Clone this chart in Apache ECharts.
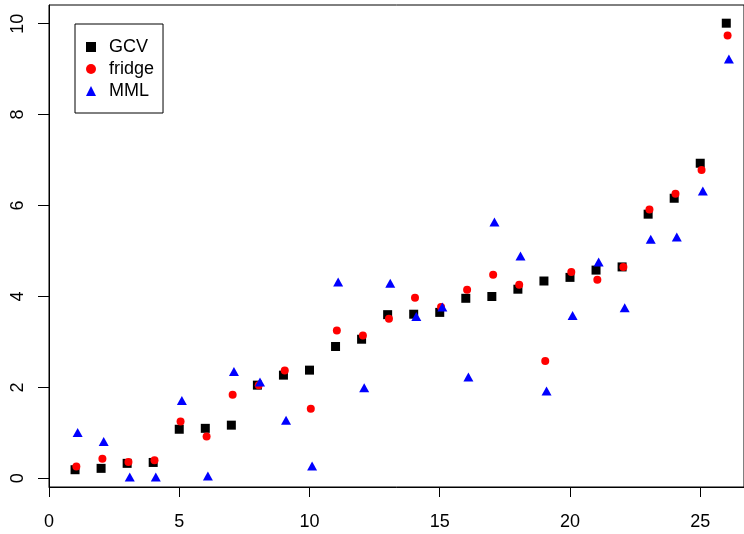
<!DOCTYPE html>
<html>
<head>
<meta charset="utf-8">
<script src="https://cdn.jsdelivr.net/npm/echarts@6/dist/echarts.min.js"></script>
<style>
  html, body { margin: 0; padding: 0; background: #fff; }
  #chart { width: 744px; height: 534px; }
</style>
</head>
<body>
<div id="chart"></div>
<script>
// index 1..26, three estimates per index
const idx = [1,2,3,4,5,6,7,8,9,10,11,12,13,14,15,16,17,18,19,20,21,22,23,24,25,26];
const gcv = [0.19,0.22,0.33,0.35,1.08,1.10,1.17,2.05,2.27,2.38,2.90,3.06,3.60,3.61,3.65,3.96,4.00,4.16,4.34,4.42,4.58,4.65,5.81,6.16,6.93,10.01];
const fridge = [0.26,0.43,0.36,0.40,1.25,0.92,1.84,2.05,2.37,1.53,3.25,3.14,3.51,3.97,3.77,4.15,4.48,4.26,2.58,4.54,4.37,4.65,5.91,6.26,6.78,9.74];
const mml = [1.01,0.81,0.03,0.03,1.71,0.05,2.35,2.12,1.28,0.27,4.32,1.99,4.29,3.56,3.77,2.23,5.64,4.89,1.92,3.58,4.76,3.75,5.26,5.31,6.32,9.22];
const xTicks = [0,5,10,15,20,25];
const yTicks = [0,2,4,6,8,10];

// small horizontal offsets so the three series don't sit on top of each other
function pts(vals, off) {
  return vals.map((v, i) => [idx[i] + off, v]);
}

const chart = echarts.init(document.getElementById('chart'));
const font = 'Liberation Sans, Arial, sans-serif';

chart.setOption({
  animation: false,
  textStyle: { fontFamily: font },
  grid: {
    left: 49, top: 5, right: -2, bottom: 47,
    show: true,
    borderColor: '#000',
    borderWidth: 1
  },
  legend: {
    orient: 'vertical',
    left: 75, top: 24,
    padding: [14, 9, 13, 11],
    itemGap: 4,
    itemWidth: 10,
    itemHeight: 10,
    borderColor: '#000',
    borderWidth: 1,
    textStyle: { fontSize: 18, color: '#000', fontFamily: font, padding: [0, 0, 0, 8] },
    data: [
      { name: 'GCV', icon: 'rect' },
      { name: 'fridge', icon: 'circle' },
      { name: 'MML', icon: 'triangle' }
    ]
  },
  xAxis: {
    type: 'value',
    min: 0,
    max: 26.68,
    splitLine: { show: false },
    axisLine: { show: true, onZero: false, lineStyle: { color: '#000', width: 1 } },
    axisTick: { show: true, length: 10, customValues: xTicks, lineStyle: { color: '#000' } },
    axisLabel: { customValues: xTicks, fontSize: 18, color: '#000', margin: 26, fontFamily: font }
  },
  yAxis: {
    type: 'value',
    min: -0.19,
    max: 10.41,
    splitLine: { show: false },
    axisLine: { show: true, onZero: false, lineStyle: { color: '#000', width: 1 } },
    axisTick: { show: true, length: 11, customValues: yTicks, lineStyle: { color: '#000' } },
    axisLabel: { customValues: yTicks, fontSize: 18, color: '#000', rotate: 90, margin: 22, fontFamily: font }
  },
  series: [
    {
      name: 'GCV', type: 'scatter', symbol: 'rect', symbolSize: 9,
      itemStyle: { color: '#000', opacity: 1 },
      data: pts(gcv, 0)
    },
    {
      name: 'fridge', type: 'scatter', symbol: 'circle', symbolSize: 8,
      itemStyle: { color: '#ff0000', opacity: 1 },
      data: pts(fridge, 0.05)
    },
    {
      name: 'MML', type: 'scatter', symbol: 'triangle', symbolSize: [10, 9],
      itemStyle: { color: '#0000ff', opacity: 1 },
      data: pts(mml, 0.1)
    }
  ]
});
</script>
</body>
</html>
